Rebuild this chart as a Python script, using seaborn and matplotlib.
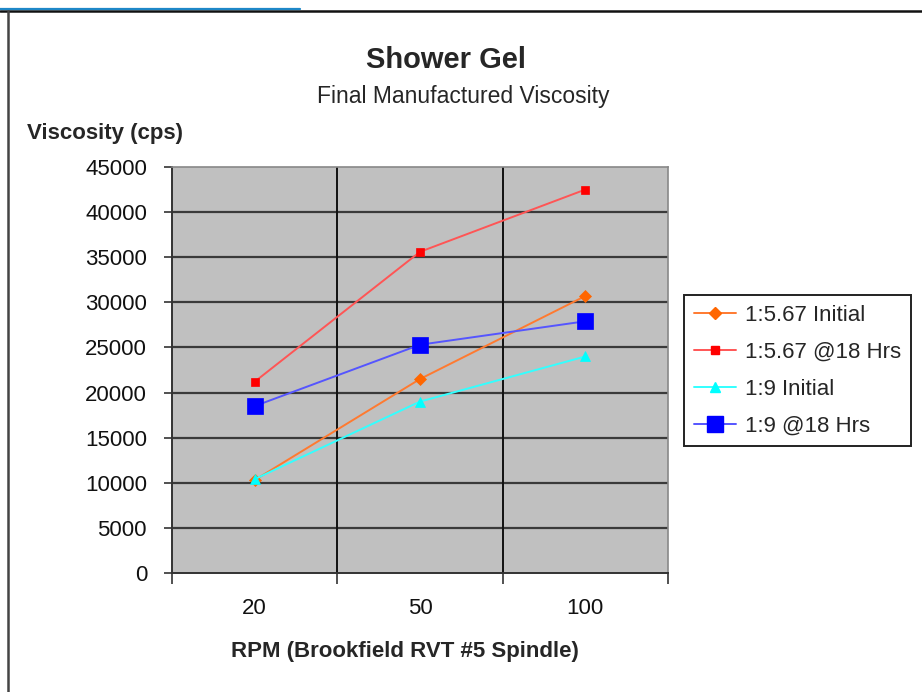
import matplotlib
matplotlib.use("Agg")
import matplotlib.pyplot as plt
from matplotlib.lines import Line2D
import seaborn as sns
import pandas as pd

categories = ["20", "50", "100"]
series_names = ["1:5.67 Initial", "1:5.67 @18 Hrs", "1:9 Initial", "1:9 @18 Hrs"]
v_567_initial = [10300, 21500, 30700]
v_567_18hrs = [21200, 35600, 42500]
v_9_initial = [10400, 19000, 24000]
v_9_18hrs = [18500, 25300, 27900]
yticks = [0, 5000, 10000, 15000, 20000, 25000, 30000, 35000, 40000, 45000]

series_values = [v_567_initial, v_567_18hrs, v_9_initial, v_9_18hrs]
marker_colors = ["#FF6600", "#FF0000", "#00FFFF", "#0000FF"]
line_colors = ["#FF7A30", "#FF5555", "#33FFFF", "#5555FF"]
markers = ["D", "s", "^", "s"]
msizes = [6, 6, 7, 11]

sns.set_theme(style="white")
plt.rcParams["font.family"] = ["Liberation Sans", "DejaVu Sans"]

fig = plt.figure(figsize=(9.22, 6.92), dpi=100)
ax = fig.add_axes([172/922, 1-573/692, (668-172)/922, (573-167)/692])
ax.set_facecolor("#C0C0C0")

rows = []
for name, vals in zip(series_names, series_values):
    for i, v in enumerate(vals):
        rows.append({"series": name, "pos": i, "value": v})
df = pd.DataFrame(rows)

# grid
for yv in yticks[1:-1]:
    ax.axhline(yv, color="#3a3a3a", lw=1.6, zorder=1)
for xv in [0.5, 1.5]:
    ax.axvline(xv, color="#111111", lw=1.4, zorder=1)

for name, lc, mc, mk, ms in zip(series_names, line_colors, marker_colors, markers, msizes):
    sub = df[df["series"] == name]
    sns.lineplot(data=sub, x="pos", y="value", ax=ax, color=lc, lw=1.4,
                 marker=mk, markersize=ms, markerfacecolor=mc,
                 markeredgecolor=mc, markeredgewidth=0.5, zorder=3,
                 legend=False, errorbar=None)

ax.set_xlim(-0.5, 2.5)
ax.set_ylim(0, 45000)
ax.set_yticks(yticks)
ax.set_yticklabels([str(t) for t in yticks], fontsize=16, color="#111111")
ax.set_xticks([0, 1, 2])
ax.set_xticklabels(categories, fontsize=16, color="#111111")
ax.set_xticks([-0.5, 0.5, 1.5, 2.5], minor=True)
ax.tick_params(axis="x", which="major", length=0, pad=18)
ax.tick_params(axis="x", which="minor", length=8, width=1.2, color="#333333", direction="out", bottom=True)
ax.tick_params(axis="y", which="major", length=6, width=1.2, color="#333333", direction="out", left=True, pad=12)
ax.set_xlabel("RPM (Brookfield RVT #5 Spindle)", fontsize=16, fontweight="bold")
ax.xaxis.label.set_va("center")
ax.xaxis.set_label_coords((405-172)/496, -(651-573)/406)
ax.set_ylabel("")
for s in ["left", "bottom"]:
    ax.spines[s].set_color("#333333")
    ax.spines[s].set_linewidth(1.4)
for s in ["top", "right"]:
    ax.spines[s].set_color("#888888")
    ax.spines[s].set_linewidth(1.2)

fig.text(446/922, 1-60/692, "Shower Gel", fontsize=21, fontweight="bold", ha="center", va="center")
fig.text(463/922, 1-97/692, "Final Manufactured Viscosity", fontsize=16.5, ha="center", va="center")
fig.text(27/922, 1-134/692, "Viscosity (cps)", fontsize=16, fontweight="bold", ha="left", va="center")

handles = [Line2D([0], [0], color=lc, lw=1.4, marker=mk, markersize=ms,
                  markerfacecolor=mc, markeredgecolor=mc)
           for lc, mc, mk, ms in zip(line_colors, marker_colors, markers, msizes)]
leg = fig.legend(handles, series_names, loc="upper left", bbox_to_anchor=(684/922, 1-295/692),
                 bbox_transform=fig.transFigure, borderaxespad=0, fontsize=16,
                 handlelength=1.9, labelspacing=0.71, handletextpad=0.4,
                 borderpad=0.45, fancybox=False, framealpha=1, edgecolor="#222222")
leg.get_frame().set_linewidth(1.4)

# page borders
fig.add_artist(Line2D([0, 1], [1-11/692, 1-11/692], color="#111111", lw=1.8, transform=fig.transFigure))
fig.add_artist(Line2D([0, 300/922], [1-9/692, 1-9/692], color="#1E88C8", lw=1.6, transform=fig.transFigure))
fig.add_artist(Line2D([8/922, 8/922], [0, 1-11/692], color="#444444", lw=1.8, transform=fig.transFigure))

fig.savefig("out.png", dpi=100)
